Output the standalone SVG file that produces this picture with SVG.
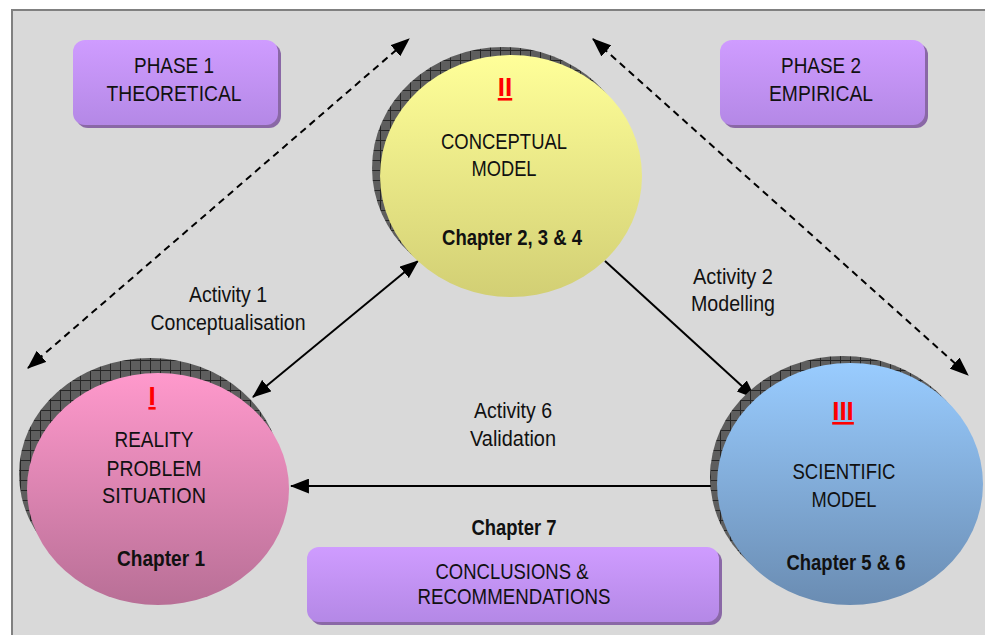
<svg xmlns="http://www.w3.org/2000/svg" width="985" height="635" viewBox="0 0 985 635">
  <style>
    .t { font-family: "Liberation Sans", Arial, sans-serif; font-size: 22px; fill: #111; text-anchor: middle; }
    .b { font-weight: bold; }
    .num { font-family: "Liberation Sans", Arial, sans-serif; font-size: 26px; font-weight: bold; fill: #ff0000; text-anchor: middle; text-decoration: underline; }
    .conn { stroke: #000; stroke-width: 2; fill: none; }
    .dash { stroke-dasharray: 7 5; }
    .box { stroke: none; }
    .boxshadow { fill: #8a68a6; }
  </style>
  <defs>
    <linearGradient id="gYellow" x1="0" y1="0" x2="0" y2="1">
      <stop offset="0" stop-color="#ffff99"/>
      <stop offset="1" stop-color="#d2cf74"/>
    </linearGradient>
    <linearGradient id="gPink" x1="0" y1="0" x2="0" y2="1">
      <stop offset="0" stop-color="#ff99cc"/>
      <stop offset="1" stop-color="#b86f96"/>
    </linearGradient>
    <linearGradient id="gBlue" x1="0" y1="0" x2="0" y2="1">
      <stop offset="0" stop-color="#99ccff"/>
      <stop offset="1" stop-color="#6a8cb2"/>
    </linearGradient>
    <linearGradient id="gLilac" x1="0" y1="0" x2="0" y2="1">
      <stop offset="0" stop-color="#cf9cff"/>
      <stop offset="1" stop-color="#b488e6"/>
    </linearGradient>
    <!-- cross-hatched shadow texture -->
    <pattern id="hatch" width="10" height="10" patternUnits="userSpaceOnUse">
      <rect width="10" height="10" fill="#5e5e5e"/>
      <path d="M0 0.5H10M0.5 0V10" stroke="#262626" stroke-width="1"/>
    </pattern>
    <marker id="head" viewBox="0 0 18 14" markerWidth="19" markerHeight="15" refX="17" refY="7" orient="auto-start-reverse" markerUnits="userSpaceOnUse">
      <path d="M0 0L18 7L0 14z" fill="#000"/>
    </marker>
  </defs>

  <!-- panel -->
  <rect x="0" y="0" width="985" height="635" fill="#ffffff"/>
  <rect x="12" y="10" width="973" height="625" fill="#d9d9d9"/>
  <path d="M12 635V10H985" fill="none" stroke="#808080" stroke-width="2"/>

  <!-- phase boxes -->
  <g id="phase1">
    <rect class="boxshadow" x="76" y="43" width="205" height="85" rx="12"/>
    <rect class="box" x="73" y="40" width="205" height="85" rx="12" fill="url(#gLilac)"/>
    <text class="t" x="174" y="73" textLength="80" lengthAdjust="spacingAndGlyphs">PHASE 1</text>
    <text class="t" x="174" y="101" textLength="135" lengthAdjust="spacingAndGlyphs">THEORETICAL</text>
  </g>
  <g id="phase2">
    <rect class="boxshadow" x="723" y="43" width="205" height="85" rx="12"/>
    <rect class="box" x="720" y="40" width="205" height="85" rx="12" fill="url(#gLilac)"/>
    <text class="t" x="821" y="73" textLength="80" lengthAdjust="spacingAndGlyphs">PHASE 2</text>
    <text class="t" x="821" y="101" textLength="104" lengthAdjust="spacingAndGlyphs">EMPIRICAL</text>
  </g>

  <!-- connectors -->
  <g id="connectors">
    <line class="conn dash" x1="28" y1="368" x2="409" y2="39" marker-start="url(#head)" marker-end="url(#head)"/>
    <line class="conn dash" x1="593" y1="39" x2="968" y2="375" marker-start="url(#head)" marker-end="url(#head)"/>
    <line class="conn" x1="253" y1="397" x2="418" y2="261" marker-start="url(#head)" marker-end="url(#head)"/>
    <line class="conn" x1="605" y1="261" x2="755" y2="398" marker-end="url(#head)"/>
    <line class="conn" x1="717" y1="486" x2="291" y2="486" marker-end="url(#head)"/>
  </g>

  <!-- connector labels -->
  <g id="labels">
    <text class="t" x="228" y="302" textLength="78" lengthAdjust="spacingAndGlyphs">Activity 1</text>
    <text class="t" x="228" y="330" textLength="155" lengthAdjust="spacingAndGlyphs">Conceptualisation</text>
    <text class="t" x="733" y="284" textLength="80" lengthAdjust="spacingAndGlyphs">Activity 2</text>
    <text class="t" x="733" y="311" textLength="84" lengthAdjust="spacingAndGlyphs">Modelling</text>
    <text class="t" x="513" y="418" textLength="78" lengthAdjust="spacingAndGlyphs">Activity 6</text>
    <text class="t" x="513" y="446" textLength="86" lengthAdjust="spacingAndGlyphs">Validation</text>
  </g>

  <!-- II conceptual model -->
  <g id="node-conceptual">
    <ellipse cx="503" cy="168" rx="131" ry="121" fill="url(#hatch)"/>
    <ellipse cx="511" cy="176" rx="131" ry="121" fill="url(#gYellow)"/>
    <text class="num" x="505" y="96">II</text>
    <text class="t" x="504" y="149" textLength="126" lengthAdjust="spacingAndGlyphs">CONCEPTUAL</text>
    <text class="t" x="504" y="176" textLength="65" lengthAdjust="spacingAndGlyphs">MODEL</text>
    <text class="t b" x="512" y="245" textLength="140" lengthAdjust="spacingAndGlyphs">Chapter 2, 3 &amp; 4</text>
  </g>

  <!-- I reality -->
  <g id="node-reality">
    <ellipse cx="150" cy="474" rx="131" ry="116" fill="url(#hatch)"/>
    <ellipse cx="158" cy="489" rx="131" ry="116" fill="url(#gPink)"/>
    <text class="num" x="152" y="405">I</text>
    <text class="t" x="154" y="447" textLength="79" lengthAdjust="spacingAndGlyphs">REALITY</text>
    <text class="t" x="154" y="476" textLength="95" lengthAdjust="spacingAndGlyphs">PROBLEM</text>
    <text class="t" x="154" y="503" textLength="104" lengthAdjust="spacingAndGlyphs">SITUATION</text>
    <text class="t b" x="161" y="566" textLength="88" lengthAdjust="spacingAndGlyphs">Chapter 1</text>
  </g>

  <!-- III scientific model -->
  <g id="node-scientific">
    <ellipse cx="843" cy="477" rx="133" ry="121" fill="url(#hatch)"/>
    <ellipse cx="850" cy="484" rx="133" ry="121" fill="url(#gBlue)"/>
    <text class="num" x="843" y="420">III</text>
    <text class="t" x="844" y="479" textLength="103" lengthAdjust="spacingAndGlyphs">SCIENTIFIC</text>
    <text class="t" x="844" y="507" textLength="65" lengthAdjust="spacingAndGlyphs">MODEL</text>
    <text class="t b" x="846" y="570" textLength="119" lengthAdjust="spacingAndGlyphs">Chapter 5 &amp; 6</text>
  </g>

  <!-- conclusions -->
  <g id="node-conclusions">
    <text class="t b" x="514" y="535" textLength="85" lengthAdjust="spacingAndGlyphs">Chapter 7</text>
    <rect class="boxshadow" x="310" y="550" width="412" height="75" rx="12"/>
    <rect class="box" x="307" y="547" width="412" height="75" rx="12" fill="url(#gLilac)"/>
    <text class="t" x="512" y="579" textLength="153" lengthAdjust="spacingAndGlyphs">CONCLUSIONS &amp;</text>
    <text class="t" x="514" y="604" textLength="193" lengthAdjust="spacingAndGlyphs">RECOMMENDATIONS</text>
  </g>
</svg>
